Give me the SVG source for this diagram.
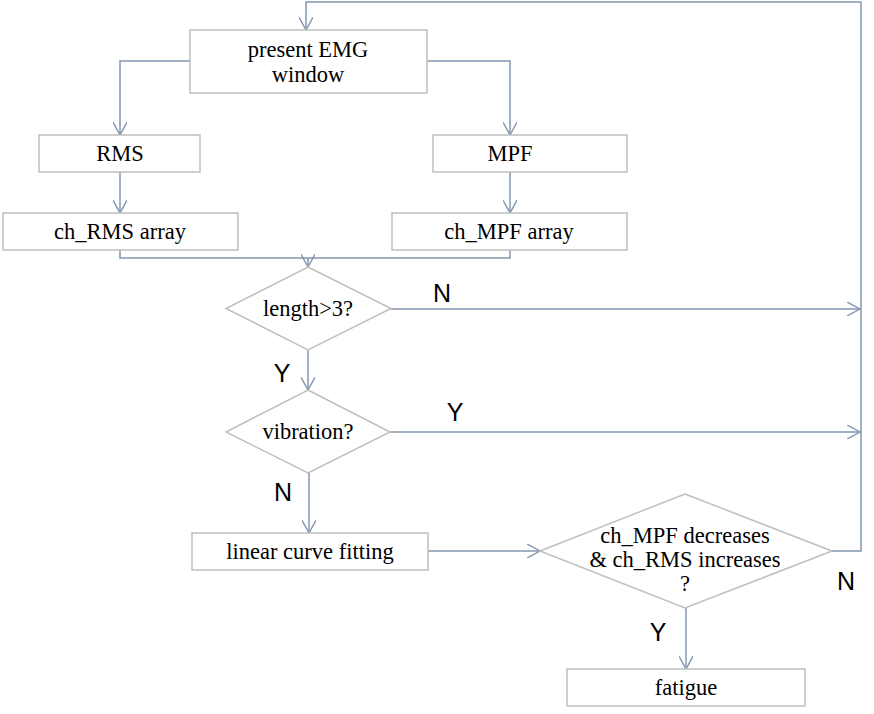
<svg xmlns="http://www.w3.org/2000/svg" width="874" height="714" viewBox="0 0 874 714">
<style>
.box{fill:#fff;stroke:#bfbfbf;stroke-width:1.5}
.t{font-family:'Liberation Serif','Times New Roman','DejaVu Serif',serif;font-size:22.5px;fill:#000;text-anchor:middle}
.lbl{font-family:'Liberation Sans',Arial,sans-serif;font-size:25px;fill:#000;text-anchor:middle}
.c{fill:none;stroke:#8497b0;stroke-width:1.5}
</style>
<defs>
<marker id="ah" markerUnits="userSpaceOnUse" markerWidth="14" markerHeight="14" refX="11" refY="6" orient="auto" viewBox="0 0 12 12">
<path d="M0,0 L11,6 L0,12" fill="none" stroke="#8497b0" stroke-width="1.2"/>
</marker>
</defs>
<rect width="874" height="714" fill="#fff"/>
<g id="connectors">
<path class="c" d="M832,551 H861 V2 H306 V30" marker-end="url(#ah)"/>
<path class="c" d="M190,61 H120 V135" marker-end="url(#ah)"/>
<path class="c" d="M427,61 H510 V135" marker-end="url(#ah)"/>
<path class="c" d="M120,172 V213" marker-end="url(#ah)"/>
<path class="c" d="M510,172 V213" marker-end="url(#ah)"/>
<path class="c" d="M120,250 V258 H308"/>
<path class="c" d="M510,250 V258 H308 V267" marker-end="url(#ah)"/>
<path class="c" d="M391,309 H860" marker-end="url(#ah)"/>
<path class="c" d="M308,350 V390" marker-end="url(#ah)"/>
<path class="c" d="M390,432 H860" marker-end="url(#ah)"/>
<path class="c" d="M309,473 V533" marker-end="url(#ah)"/>
<path class="c" d="M428,551 H540" marker-end="url(#ah)"/>
<path class="c" d="M686,608 V669" marker-end="url(#ah)"/>
</g>
<g id="present">
<rect class="box" x="190" y="30" width="237" height="63"/>
<text class="t" x="308" y="57">present EMG</text>
<text class="t" x="308" y="82">window</text>
</g>
<g id="rms">
<rect class="box" x="39" y="135" width="161" height="37"/>
<text class="t" x="120" y="161">RMS</text>
</g>
<g id="mpf">
<rect class="box" x="433" y="135" width="194" height="37"/>
<text class="t" x="510" y="161">MPF</text>
</g>
<g id="chrms">
<rect class="box" x="3" y="213" width="235" height="37"/>
<text class="t" x="120" y="239">ch_RMS array</text>
</g>
<g id="chmpf">
<rect class="box" x="392" y="213" width="235" height="37"/>
<text class="t" x="509" y="239">ch_MPF array</text>
</g>
<g id="length">
<polygon class="box" points="308,267 391,308.5 308,350 226,308.5"/>
<text class="t" x="308" y="316">length&gt;3?</text>
</g>
<g id="vibration">
<polygon class="box" points="308,390 390,432 308,473 226,432"/>
<text class="t" x="308" y="439">vibration?</text>
</g>
<g id="linear">
<rect class="box" x="192" y="533" width="236" height="37"/>
<text class="t" x="310" y="559">linear curve fitting</text>
</g>
<g id="decision">
<polygon class="box" points="685,494 832,551 685,608 540,551"/>
<text class="t" x="685" y="543">ch_MPF decreases</text>
<text class="t" x="685" y="567">&amp; ch_RMS increases</text>
<text class="t" x="685" y="591">?</text>
</g>
<g id="fatigue">
<rect class="box" x="567" y="669" width="238" height="37"/>
<text class="t" x="686" y="695">fatigue</text>
</g>
<g id="labels">
<text class="lbl" x="442" y="302">N</text>
<text class="lbl" x="282" y="382">Y</text>
<text class="lbl" x="455" y="421">Y</text>
<text class="lbl" x="283" y="501">N</text>
<text class="lbl" x="658" y="641">Y</text>
<text class="lbl" x="846" y="590">N</text>
</g>
</svg>
